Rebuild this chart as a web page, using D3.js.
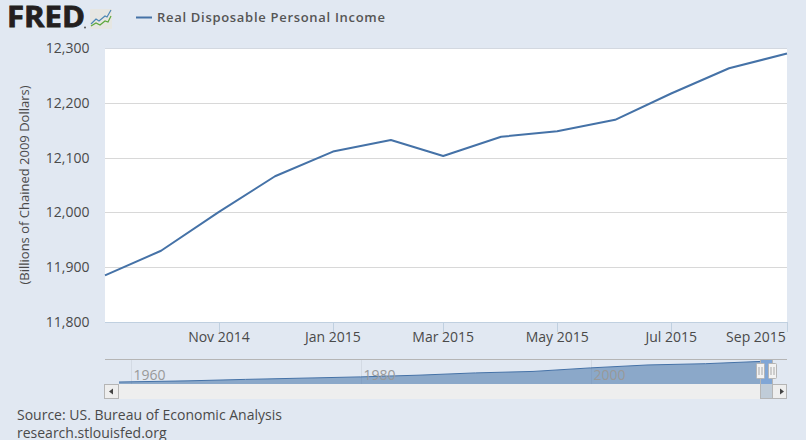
<!DOCTYPE html>
<html><head><meta charset="utf-8">
<script src="https://cdnjs.cloudflare.com/ajax/libs/d3/7.8.5/d3.min.js"></script>
<style>html,body{margin:0;padding:0;background:#e1e8f2;overflow:hidden}svg{display:block}text{font-family:"Open Sans",sans-serif}</style>
</head><body><svg id="c" width="806" height="440"></svg>
<script>
const months=["2014-09","2014-10","2014-11","2014-12","2015-01","2015-02","2015-03","2015-04","2015-05","2015-06","2015-07","2015-08","2015-09"];
const income=[11885,11930,12001,12066,12111,12132,12103,12138,12148,12169,12217,12263,12290];
const yTicks=[11800,11900,12000,12100,12200,12300];
const xTickMonths=["2014-11","2015-01","2015-03","2015-05","2015-07","2015-09"];
const navYears=[1959,1965,1970,1975,1980,1985,1990,1995,2000,2005,2010,2015.67];
const navValues=[2250,2800,3500,4100,4700,5500,6600,7300,9000,10400,11000,12290];
const navTicks=[1960,1980,2000];
const seriesName="Real Disposable Personal Income";
const yTitle="(Billions of Chained 2009 Dollars)";
const sourceLines=["Source: US. Bureau of Economic Analysis","research.stlouisfed.org"];

const parse=d3.timeParse("%Y-%m"), fmt=d3.timeFormat("%b %Y");
const svg=d3.select("#c");
const L=105,R=787,T=48,B=322;
const x=d3.scaleTime().domain([parse(months[0]),parse(months[months.length-1])]).range([L,R]);
const y=d3.scaleLinear().domain([11800,12300]).range([B,T]);
svg.append("rect").attr("x",L).attr("y",T).attr("width",R-L).attr("height",B-T).attr("fill","#fff");
svg.append("g").selectAll("line").data(yTicks.slice(1)).join("line")
 .attr("x1",L).attr("x2",R).attr("y1",d=>Math.round(y(d))+.5).attr("y2",d=>Math.round(y(d))+.5)
 .attr("stroke",d=>d===12300?"#d3d8e0":"#d8d8d8");
svg.append("g").selectAll("text").data(yTicks).join("text")
 .attr("x",89.5).attr("y",d=>y(d)+5).attr("text-anchor","end").attr("font-size",14).attr("fill","#4a4a4a")
 .text(d3.format(","));
svg.append("line").attr("x1",L).attr("x2",R).attr("y1",B+.5).attr("y2",B+.5).attr("stroke","#c0d0e0");
const xg=svg.append("g").selectAll("g").data(xTickMonths.map(parse)).join("g");
xg.append("line").attr("x1",d=>Math.round(x(d))+.5).attr("x2",d=>Math.round(x(d))+.5).attr("y1",B).attr("y2",B+10).attr("stroke","#c0d0e0");
xg.append("text").attr("x",d=>Math.min(x(d),756)).attr("y",342).attr("text-anchor","middle").attr("font-size",14).attr("fill","#4a4a4a").text(fmt);
svg.append("path").attr("fill","none").attr("stroke","#4572a7").attr("stroke-width",2).attr("stroke-linejoin","round")
 .attr("d",d3.line().x((d,i)=>x(parse(months[i]))).y(d=>y(d))(income));
svg.append("text").attr("transform","translate(29,185) rotate(-90)").attr("text-anchor","middle").attr("font-size",13).attr("fill","#4a4a4a").text(yTitle);

// legend
svg.append("line").attr("x1",136).attr("x2",152).attr("y1",17.5).attr("y2",17.5).attr("stroke","#4572a7").attr("stroke-width",2);
svg.append("text").attr("x",157).attr("y",22).attr("font-size",13).attr("font-weight",600).attr("letter-spacing",".7").attr("fill","#555").text(seriesName);

// logo
svg.append("text").attr("x",7).attr("y",27).attr("font-size",29).attr("font-weight",700).attr("font-family","Liberation Sans").attr("stroke","#231f20").attr("stroke-width",.8).attr("fill","#231f20").attr("textLength",78).attr("lengthAdjust","spacingAndGlyphs").text("FRED");
svg.append("circle").attr("cx",85).attr("cy",27.5).attr("r",1).attr("fill","#555");
const lg=svg.append("g");
lg.append("rect").attr("x",90).attr("y",9).attr("width",22).attr("height",20).attr("rx",1).attr("fill","#e6e6e2");
const logoLine=d3.line().x(d=>90+d[0]).y(d=>9+d[1]);
lg.append("path").attr("fill","none").attr("stroke","#4b86b4").attr("stroke-width",1.2).attr("d",logoLine([[1,15],[6,10],[9,12],[15,7],[17,8],[21,1]]));
lg.append("path").attr("fill","none").attr("stroke","#5da83c").attr("stroke-width",1.2).attr("d",logoLine([[1,17],[6,14],[10,16],[15,12],[18,13],[21,7]]));

// navigator
const nx=d3.scaleLinear().domain([1960,2000]).range([130.5,590.5]);
const ny=d3.scaleLinear().domain([2250,12290]).range([382,361]);
const nTop=360,nBot=384;
svg.append("g").selectAll("line").data(navTicks).join("line").attr("x1",d=>Math.round(nx(d))+.5).attr("x2",d=>Math.round(nx(d))+.5).attr("y1",nTop).attr("y2",nBot).attr("stroke","#d3dae4");
svg.append("path").attr("fill","#4572a7").attr("fill-opacity",.55)
 .attr("d",d3.area().x((d,i)=>nx(navYears[i])).y0(nBot).y1(d=>ny(d))(navValues));
svg.append("path").attr("fill","none").attr("stroke","#4572a7").attr("stroke-width",1)
 .attr("d",d3.line().x((d,i)=>nx(navYears[i])).y(d=>ny(d))(navValues));
svg.append("g").selectAll("text").data(navTicks).join("text").attr("x",d=>nx(d)+3).attr("y",380).attr("font-size",14).attr("fill","#999").text(d=>d);
svg.append("line").attr("x1",L).attr("x2",787).attr("y1",359.5).attr("y2",359.5).attr("stroke","#b5b5b5");
// scrollbar
svg.append("rect").attr("x",105).attr("y",384).attr("width",682).attr("height",15).attr("fill","#eeeeee");
svg.append("rect").attr("x",760.5).attr("y",360).attr("width",12).attr("height",38.5).attr("fill","#c0ccd8").attr("fill-opacity",1);
svg.append("rect").attr("x",760.5).attr("y",360).attr("width",12).attr("height",24).attr("fill","#80a6d6");
svg.append("rect").attr("x",760.5).attr("y",359.5).attr("width",12).attr("height",39).attr("fill","none").attr("stroke","#b5b5b5");
[[104.5,"M109 391.5l4-3v6z",".5"],[772.5,"M780 388.5l4 3-4 3z",".5"]].forEach(([bx,p])=>{
 svg.append("rect").attr("x",bx).attr("y",384.5).attr("width",14).attr("height",14).attr("fill","#eeeeee").attr("stroke","#b5b5b5");
 svg.append("path").attr("d",p).attr("fill","#444");
});
[760.5,772.5].forEach(h=>{
 svg.append("rect").attr("x",h-4).attr("y",363.5).attr("width",8).attr("height",15).attr("rx",1).attr("fill","#f2f2f2").attr("stroke","#b5b5b5");
 [-1.5,1.5].forEach(o=>svg.append("line").attr("x1",h+o).attr("x2",h+o).attr("y1",367).attr("y2",375).attr("stroke","#a8a8a8"));
});
// source
svg.selectAll(".src").data(sourceLines).join("text").attr("class","src").attr("x",17).attr("y",(d,i)=>420+i*17.5).attr("font-size",14).attr("fill","#4a4a4a").text(d=>d);
</script></body></html>
